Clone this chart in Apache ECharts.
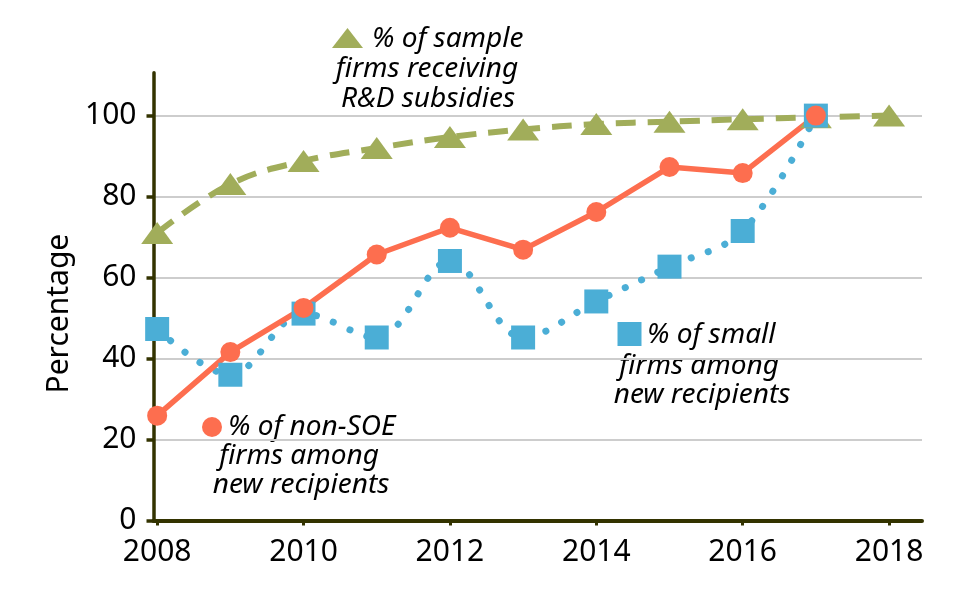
<!DOCTYPE html>
<html>
<head>
<meta charset="utf-8">
<script src="https://cdn.jsdelivr.net/npm/echarts@6/dist/echarts.min.js"></script>
<style>
  html, body { margin: 0; background: #fff; }
  #chart { width: 960px; height: 597px; }
</style>
</head>
<body>
<div id="chart"></div>
<script>
const years = [2008, 2009, 2010, 2011, 2012, 2013, 2014, 2015, 2016, 2017, 2018];
const sampleFirms = [71, 83.1, 88.8, 92, 94.7, 96.6, 97.9, 98.5, 99.1, 99.6, 100];
const nonSoeFirms = [25.9, 41.6, 52.5, 65.7, 72.3, 66.9, 76.2, 87.3, 85.8, 100];
const smallFirms = [47.3, 36.0, 51.1, 45.2, 64.1, 45.2, 54.1, 62.7, 71.5, 100];
const xTicks = [2008, 2010, 2012, 2014, 2016, 2018];
const yTicks = [0, 20, 40, 60, 80, 100];

const GREEN = "#a1ad5a", RED = "#fd6e4f", BLUE = "#4baed6", AXIS = "#333300";
const FONT = "Noto Sans";

const pairs = values => values.map((v, i) => [years[i], v]);
const note = (text, x, y, align) => ({
  type: "text", x, y,
  style: { text, fill: "#000", font: `italic 28px "${FONT}"`, textAlign: align, textVerticalAlign: "middle" }
});

const chart = echarts.init(document.getElementById("chart"), null, { renderer: "canvas" });
chart.setOption({
  animation: false,
  grid: { left: 153.5, right: 38, top: 72.7, bottom: 76.5, containLabel: false },
  xAxis: {
    type: "value", min: 2007.95, max: 2018.45,
    axisLine: { lineStyle: { color: AXIS, width: 4 } },
    axisTick: { show: true, length: 5, lineStyle: { color: AXIS, width: 3 }, customValues: xTicks },
    axisLabel: { customValues: xTicks, formatter: v => String(v), color: "#000", fontSize: 30, fontFamily: FONT, margin: 17 },
    splitLine: { show: false }
  },
  yAxis: {
    type: "value", min: 0, max: 110.6,
    name: "Percentage", nameLocation: "middle", nameGap: 76,
    nameTextStyle: { color: "#000", fontSize: 30, fontFamily: FONT, padding: [0, 34, 0, 0] },
    axisLine: { show: true, lineStyle: { color: AXIS, width: 3.5 } },
    axisTick: { show: true, length: 7, lineStyle: { color: AXIS, width: 3.5 }, customValues: yTicks },
    axisLabel: { customValues: yTicks, color: "#000", fontSize: 30, fontFamily: FONT, margin: 17 },
    splitLine: { show: true, lineStyle: { color: "#cdcdcd", width: 2 } }
  },
  series: [
    {
      name: "sample", type: "line", data: pairs(sampleFirms), smooth: 0.4,
      symbol: "triangle", symbolSize: [32, 22],
      itemStyle: { color: GREEN },
      lineStyle: { color: GREEN, width: 6, type: [20, 12] }
    },
    {
      name: "small", type: "line", data: pairs(smallFirms), smooth: 0.35,
      symbol: "rect", symbolSize: 24,
      itemStyle: { color: BLUE },
      lineStyle: { color: BLUE, width: 7, type: [0.1, 18], cap: "round" }
    },
    {
      name: "nonSOE", type: "line", data: pairs(nonSoeFirms),
      symbol: "circle", symbolSize: 20,
      itemStyle: { color: RED },
      lineStyle: { color: RED, width: 5.5 }
    }
  ],
  graphic: [
    { type: "polygon", shape: { points: [[347.5, 28], [363, 48], [332, 48]] }, style: { fill: GREEN } },
    note("% of sample", 372, 39, "left"),
    note("firms receiving", 427, 69, "center"),
    note("R&D subsidies", 428, 99, "center"),
    { type: "circle", shape: { cx: 212, cy: 427, r: 10 }, style: { fill: RED } },
    note("% of non-SOE", 228, 427, "left"),
    note("firms among", 299, 456.5, "center"),
    note("new recipients", 301, 485.5, "center"),
    { type: "rect", shape: { x: 617.5, y: 322, width: 24, height: 24 }, style: { fill: BLUE } },
    note("% of small", 647, 335, "left"),
    note("firms among", 699, 366, "center"),
    note("new recipients", 702, 395, "center")
  ]
});
</script>
</body>
</html>
